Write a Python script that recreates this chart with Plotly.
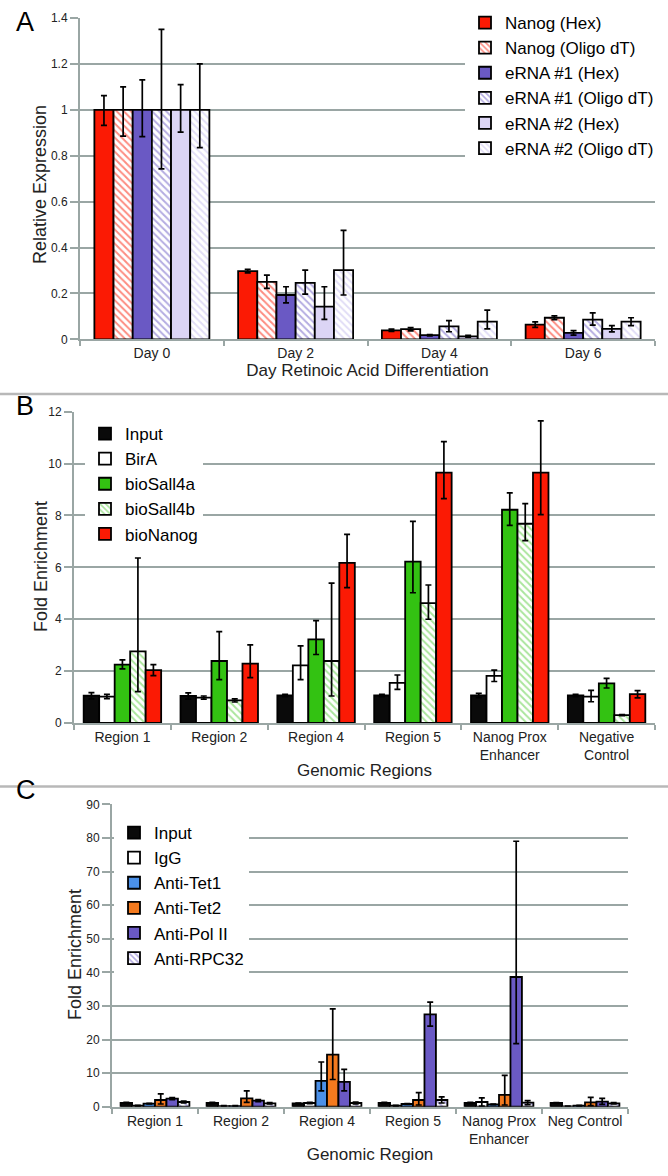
import plotly.graph_objects as go

W, H = 668, 1176
FONT = "Arial, Liberation Sans, sans-serif"
GRID = "#9aa6a4"
TXT = "#222222"

# ---------------- Panel A data ----------------
days = ["Day 0", "Day 2", "Day 4", "Day 6"]
a_series = ["Nanog (Hex)", "Nanog (Oligo dT)", "eRNA #1 (Hex)", "eRNA #1 (Oligo dT)", "eRNA #2 (Hex)", "eRNA #2 (Oligo dT)"]
nanog_hex = [1.0, 0.297, 0.039, 0.064]
nanog_hex_up = [0.062, 0.008, 0.005, 0.012]
nanog_hex_dn = [0.068, 0.008, 0.005, 0.012]
nanog_oligo = [1.0, 0.25, 0.044, 0.094]
nanog_oligo_up = [0.10, 0.03, 0.007, 0.008]
nanog_oligo_dn = [0.115, 0.028, 0.007, 0.008]
erna1_hex = [1.0, 0.193, 0.018, 0.028]
erna1_hex_up = [0.13, 0.036, 0.003, 0.01]
erna1_hex_dn = [0.117, 0.034, 0.003, 0.01]
erna1_oligo = [1.0, 0.246, 0.056, 0.086]
erna1_oligo_up = [0.35, 0.055, 0.025, 0.029]
erna1_oligo_dn = [0.257, 0.049, 0.023, 0.024]
erna2_hex = [1.0, 0.142, 0.013, 0.045]
erna2_hex_up = [0.11, 0.087, 0.004, 0.015]
erna2_hex_dn = [0.097, 0.055, 0.004, 0.013]
erna2_oligo = [1.0, 0.301, 0.077, 0.077]
erna2_oligo_up = [0.20, 0.174, 0.05, 0.017]
erna2_oligo_dn = [0.165, 0.108, 0.032, 0.017]

# ---------------- Panel B data ----------------
regions_b = ["Region 1", "Region 2", "Region 4", "Region 5", "Nanog Prox<br>Enhancer", "Negative<br>Control"]
b_series = ["Input", "BirA", "bioSall4a", "bioSall4b", "bioNanog"]
b_input = [1.05, 1.04, 1.06, 1.06, 1.06, 1.06]
b_input_err = [0.12, 0.12, 0.04, 0.04, 0.08, 0.04]
b_bira = [1.02, 0.98, 2.22, 1.55, 1.82, 1.02]
b_bira_up = [0.08, 0.06, 0.75, 0.3, 0.22, 0.24]
b_bira_dn = [0.08, 0.06, 0.55, 0.25, 0.22, 0.2]
b_sall4a = [2.25, 2.39, 3.22, 6.22, 8.22, 1.53]
b_sall4a_up = [0.18, 1.13, 0.73, 1.55, 0.65, 0.19]
b_sall4a_dn = [0.16, 0.72, 0.58, 1.2, 0.6, 0.18]
b_sall4b = [2.76, 0.87, 2.39, 4.62, 7.68, 0.3]
b_sall4b_up = [3.6, 0.06, 3.0, 0.7, 0.78, 0.02]
b_sall4b_dn = [1.55, 0.06, 1.35, 0.62, 0.65, 0.02]
b_nanog = [2.04, 2.29, 6.17, 9.65, 9.65, 1.11]
b_nanog_up = [0.21, 0.72, 1.1, 1.2, 2.0, 0.14]
b_nanog_dn = [0.21, 0.54, 0.95, 1.0, 1.62, 0.14]

# ---------------- Panel C data ----------------
regions_c = ["Region 1", "Region 2", "Region 4", "Region 5", "Nanog Prox<br>Enhancer", "Neg Control"]
c_series = ["Input", "IgG", "Anti-Tet1", "Anti-Tet2", "Anti-Pol II", "Anti-RPC32"]
c_input = [1.1, 1.1, 1.0, 1.1, 1.1, 1.1]
c_input_err = [0.2, 0.2, 0.1, 0.2, 0.2, 0.1]
c_igg = [0.3, 0.2, 1.1, 0.3, 1.4, 0.1]
c_igg_err = [0.1, 0.1, 0.2, 0.1, 1.2, 0.1]
c_tet1 = [0.9, 0.2, 7.7, 0.8, 0.7, 0.3]
c_tet1_up = [0.1, 0.1, 5.6, 0.1, 0.1, 0.1]
c_tet1_dn = [0.1, 0.1, 3.0, 0.1, 0.1, 0.1]
c_tet2 = [2.0, 2.5, 15.5, 2.0, 3.5, 1.3]
c_tet2_up = [1.8, 2.2, 13.6, 2.2, 5.8, 1.5]
c_tet2_dn = [1.2, 1.2, 7.4, 1.5, 3.0, 1.0]
c_pol2 = [2.4, 1.8, 7.4, 27.5, 38.6, 1.5]
c_pol2_up = [0.3, 0.3, 3.7, 3.6, 40.4, 1.0]
c_pol2_dn = [0.3, 0.3, 2.7, 3.5, 19.8, 0.8]
c_rpc32 = [1.4, 1.0, 1.1, 2.0, 1.2, 1.0]
c_rpc32_err = [0.3, 0.2, 0.3, 0.9, 0.6, 0.2]

RED = "#fb1a04"
PURPLE = "#6a59c4"
LPURPLE = "#dcd5f5"
GREEN = "#33c212"
BLUE = "#4b90e8"
ORANGE = "#f47a1e"


def err(up, dn=None):
    d = dict(type="data", array=up, color="black", thickness=1.7, width=3)
    if dn is not None:
        d["symmetric"] = False
        d["arrayminus"] = dn
    return d


def bar(name, x, y, e, ax, lg, color, hatch=None):
    marker = dict(color=color, line=dict(color="black", width=1.8))
    if hatch is not None:
        marker["color"] = "white"
        marker["pattern"] = dict(shape="\\", fgcolor=hatch, bgcolor="white", size=5, solidity=0.4)
    return go.Bar(name=name, x=x, y=y, error_y=e, marker=marker,
                  xaxis="x" + ax, yaxis="y" + ax, legend=lg)


fig = go.Figure()
# Panel A
fig.add_trace(bar(a_series[0], days, nanog_hex, err(nanog_hex_up, nanog_hex_dn), "", "legend", RED))
fig.add_trace(bar(a_series[1], days, nanog_oligo, err(nanog_oligo_up, nanog_oligo_dn), "", "legend", RED, hatch=RED))
fig.add_trace(bar(a_series[2], days, erna1_hex, err(erna1_hex_up, erna1_hex_dn), "", "legend", PURPLE))
fig.add_trace(bar(a_series[3], days, erna1_oligo, err(erna1_oligo_up, erna1_oligo_dn), "", "legend", PURPLE, hatch=PURPLE))
fig.add_trace(bar(a_series[4], days, erna2_hex, err(erna2_hex_up, erna2_hex_dn), "", "legend", LPURPLE))
fig.add_trace(bar(a_series[5], days, erna2_oligo, err(erna2_oligo_up, erna2_oligo_dn), "", "legend", LPURPLE, hatch="#c4bbee"))
# Panel B
fig.add_trace(bar(b_series[0], regions_b, b_input, err(b_input_err), "2", "legend2", "#0a0a0a"))
fig.add_trace(bar(b_series[1], regions_b, b_bira, err(b_bira_up, b_bira_dn), "2", "legend2", "white"))
fig.add_trace(bar(b_series[2], regions_b, b_sall4a, err(b_sall4a_up, b_sall4a_dn), "2", "legend2", GREEN))
fig.add_trace(bar(b_series[3], regions_b, b_sall4b, err(b_sall4b_up, b_sall4b_dn), "2", "legend2", GREEN, hatch="#55cc3a"))
fig.add_trace(bar(b_series[4], regions_b, b_nanog, err(b_nanog_up, b_nanog_dn), "2", "legend2", RED))
# Panel C
fig.add_trace(bar(c_series[0], regions_c, c_input, err(c_input_err), "3", "legend3", "#0a0a0a"))
fig.add_trace(bar(c_series[1], regions_c, c_igg, err(c_igg_err), "3", "legend3", "white"))
fig.add_trace(bar(c_series[2], regions_c, c_tet1, err(c_tet1_up, c_tet1_dn), "3", "legend3", BLUE))
fig.add_trace(bar(c_series[3], regions_c, c_tet2, err(c_tet2_up, c_tet2_dn), "3", "legend3", ORANGE))
fig.add_trace(bar(c_series[4], regions_c, c_pol2, err(c_pol2_up, c_pol2_dn), "3", "legend3", PURPLE))
fig.add_trace(bar(c_series[5], regions_c, c_rpc32, err(c_rpc32_err), "3", "legend3", "white", hatch=PURPLE))


def px(x):
    return x / W


def py(y):
    return 1 - y / H


def xaxis(dom, anchor, title, standoff):
    return dict(domain=[px(dom[0]), px(dom[1])], anchor=anchor, automargin=False, showgrid=False,
                showline=True, linecolor=GRID, linewidth=2,
                ticks="outside", tickson="boundaries", ticklen=5, tickcolor=GRID, tickwidth=1.5,
                tickfont=dict(size=14, color=TXT, family=FONT),
                title=dict(text=title, font=dict(size=17, color=TXT, family=FONT), standoff=standoff),
                fixedrange=True)


def yaxis(dom, anchor, rng, dtick):
    return dict(domain=[py(dom[1]), py(dom[0])], anchor=anchor, automargin=False, range=rng, dtick=dtick,
                showgrid=True, gridcolor=GRID, gridwidth=2,
                showline=True, linecolor=GRID, linewidth=2, ticks="outside", ticklen=8, tickcolor=GRID, tickwidth=1.5,
                tickfont=dict(size=12, color=TXT, family=FONT), zeroline=False,
                fixedrange=True)


def legend(x, y, size):
    return dict(x=px(x), y=py(y), xanchor="left", yanchor="top", bgcolor="white", borderwidth=0,
                font=dict(size=size, color="black", family=FONT), traceorder="normal",
                itemwidth=30, tracegroupgap=0)


fig.update_layout(
    width=W, height=H, margin=dict(l=0, r=0, t=0, b=0, autoexpand=False),
    paper_bgcolor="white", plot_bgcolor="white",
    barmode="group", bargap=0.2, bargroupgap=0,
    font=dict(family=FONT, color=TXT),
    xaxis=xaxis((80, 655), "y", "Day Retinoic Acid Differentiation", 2),
    yaxis=yaxis((18, 339.3), "x", [0, 1.4], 0.2),
    xaxis2=xaxis((74, 655), "y2", "Genomic Regions", 2),
    yaxis2=yaxis((411.7, 723), "x2", [0, 12], 2),
    xaxis3=xaxis((112, 628), "y3", "Genomic Region", 2),
    yaxis3=yaxis((804.3, 1106.7), "x3", [0, 90], 10),
    legend=legend(465, 5, 17),
    legend2=legend(85, 416, 17),
    legend3=legend(114, 815, 17),
    showlegend=True,
)

# y-axis titles
for text, (x, y) in {"Relative Expression": (40, 185), "Fold Enrichment": (41, 567)}.items():
    fig.add_annotation(text=text, x=px(x), y=py(y), xref="paper", yref="paper", textangle=-90,
                       xanchor="center", yanchor="middle", showarrow=False,
                       font=dict(size=18, color=TXT, family=FONT))
fig.add_annotation(text="Fold Enrichment", x=px(75), y=py(955), xref="paper", yref="paper", textangle=-90,
                   xanchor="center", yanchor="middle", showarrow=False,
                   font=dict(size=18, color=TXT, family=FONT))

for lab, (x, y) in {"A": (14, 22), "B": (14, 406), "C": (14, 790)}.items():
    fig.add_annotation(text=lab, x=px(x), y=py(y), xref="paper", yref="paper", xanchor="left", yanchor="middle",
                       showarrow=False, font=dict(size=27, color="black", family=FONT))

for yline in (394, 786.5):
    fig.add_shape(type="line", xref="paper", yref="paper", x0=0, x1=1, y0=py(yline), y1=py(yline),
                  line=dict(color="#b8b8b8", width=2.5))

fig.write_html("out.html", config={"displayModeBar": False},
               post_script="document.body.style.margin='0';document.body.style.padding='0';")
